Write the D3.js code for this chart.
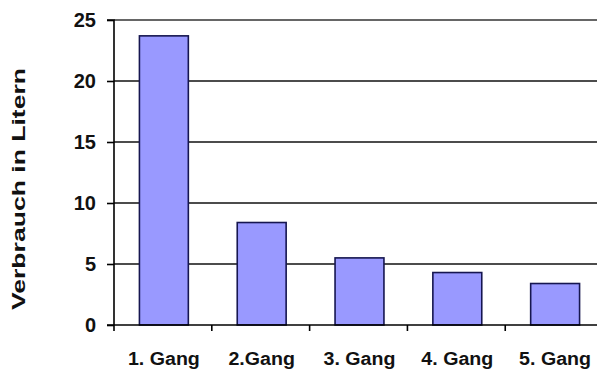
<!DOCTYPE html>
<html><head><meta charset="utf-8">
<script src="https://cdn.jsdelivr.net/npm/d3@7"></script>
<style>body{margin:0;background:#fff}svg{display:block}</style>
</head><body>
<script>
const categories = ["1. Gang", "2.Gang", "3. Gang", "4. Gang", "5. Gang"];
const values = [23.7, 8.4, 5.5, 4.3, 3.4];
const yTicks = [0, 5, 10, 15, 20, 25];
const yTitle = "Verbrauch in Litern";

(function () {
const W = 597, H = 369;
const FONT = "Liberation Sans, Arial, sans-serif";
const svg = d3.select("body").append("svg").attr("width", W).attr("height", H);
const mLeft = 114, mRight = 605, mTop = 20, mBottom = 325;

const x = d3.scaleBand().domain(categories).range([mLeft, mRight]).paddingInner(0.5).paddingOuter(0.26);
const y = d3.scaleLinear().domain([0, 25]).range([mBottom, mTop]);

// gridlines
svg.append("g").selectAll("line").data(yTicks.filter(d => d > 0)).join("line")
  .attr("x1", mLeft).attr("x2", W).attr("y1", d => y(d)).attr("y2", d => y(d))
  .attr("stroke", (d) => d === 25 ? "#333" : "#111").attr("stroke-width", 1.6);

// bars
svg.append("g").selectAll("rect").data(values).join("rect")
  .attr("x", (d, i) => x(categories[i]))
  .attr("width", x.bandwidth())
  .attr("y", d => y(d))
  .attr("height", d => y(0) - y(d))
  .attr("fill", "#9999ff").attr("stroke", "#161650").attr("stroke-width", 1.6);

// y axis
const yAxis = d3.axisLeft(y).tickValues(yTicks).tickSize(7).tickPadding(11);
const gy = svg.append("g").attr("transform", `translate(${mLeft},0)`).call(yAxis);
gy.select(".domain").attr("stroke", "#000").attr("stroke-width", 1.6).attr("d", `M-7,${mTop}H0V${mBottom}`);
gy.selectAll(".tick line").attr("stroke", "#000").attr("stroke-width", 1.6);
gy.selectAll("text").attr("font-family", FONT).attr("font-weight", "bold").attr("font-size", 20).attr("fill", "#111");

// x axis
const step = x.step();
const gx = svg.append("g").attr("transform", `translate(0,${mBottom})`);
gx.append("line").attr("x1", mLeft - 7).attr("x2", W).attr("stroke", "#000").attr("stroke-width", 1.6);
gx.selectAll("line.t").data(d3.range(categories.length + 1)).join("line").attr("class", "t")
  .attr("x1", d => mLeft + d * step).attr("x2", d => mLeft + d * step).attr("y1", 0).attr("y2", 6)
  .attr("stroke", "#000").attr("stroke-width", 1.6);
gx.selectAll("text").data(categories).join("text")
  .attr("x", d => x(d) + x.bandwidth() / 2).attr("y", 40)
  .attr("text-anchor", "middle")
  .attr("font-family", FONT).attr("font-weight", "bold").attr("font-size", 18).attr("fill", "#111")
  .text(d => d)
  .each(function () {
    const w = this.getComputedTextLength();
    d3.select(this).attr("textLength", w * 1.09).attr("lengthAdjust", "spacingAndGlyphs");
  });

// y title
svg.append("text").attr("transform", `translate(25,189) rotate(-90)`)
  .attr("text-anchor", "middle")
  .attr("font-family", FONT).attr("font-weight", "bold").attr("font-size", 18).attr("fill", "#111")
  .attr("textLength", 242).attr("lengthAdjust", "spacingAndGlyphs")
  .text(yTitle);
})();
</script>
</body></html>
